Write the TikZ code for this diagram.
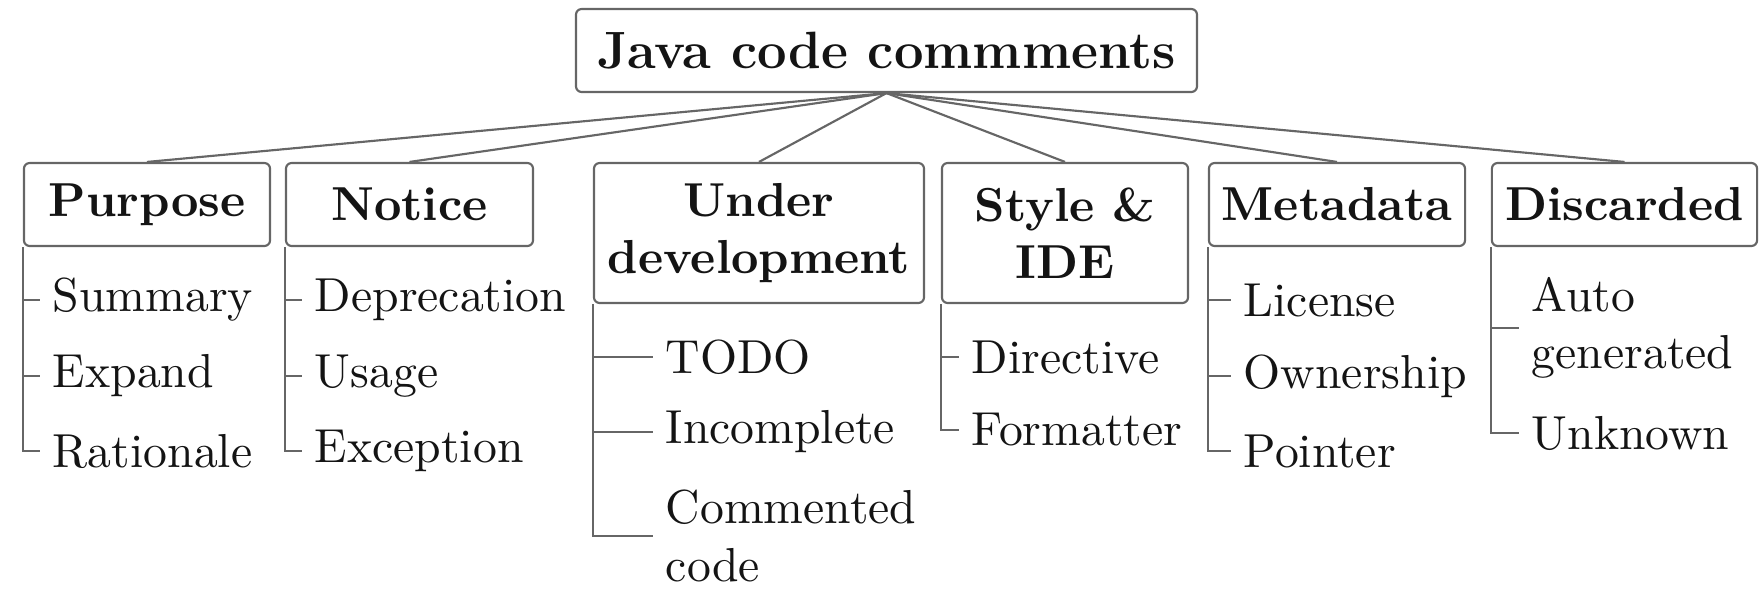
\documentclass[tikz,border=0pt]{standalone}
\begin{document}
\begin{tikzpicture}[x=0.20964pt, y=-0.20964pt,
  every node/.style={text=black!92},
  box/.style={draw=black!60, line width=0.45pt, rounded corners=1.2pt, inner sep=0pt, align=center, font=\bfseries},
  onel/.style={minimum height=17.4pt},
  twol/.style={minimum height=29.35pt},
  leaf/.style={anchor=west, inner xsep=2.5pt, inner ysep=1pt, align=left},
  conn/.style={draw=black!60, line width=0.45pt}]
\useasboundingbox (0,0) rectangle (1762,589);
% root
\node[box, minimum width=130.2pt, minimum height=17.4pt, font=\fontsize{11}{13}\selectfont\bfseries] (root) at (886.5,50.5) {Java code commments};
% level 1
\node[box, onel, minimum width=51.6pt] (pur) at (147,204.5) {Purpose};
\node[box, onel, minimum width=51.8pt] (not) at (409.5,204.5) {Notice};
\node[box, twol, minimum width=69.2pt] (und) at (759,233) {Under\\development};
\node[box, twol, minimum width=51.6pt] (sty) at (1065,233) {Style \&\\IDE};
\node[box, onel, minimum width=53.7pt] (met) at (1337,204.5) {Metadata};
\node[box, onel, minimum width=55.6pt] (dis) at (1624.5,204.5) {Discarded};
\foreach \c in {pur,not,und,sty,met,dis} \draw[conn] (root.south) -- (\c.north);
% Purpose
\node[leaf] (pur1) at (40,300) {Summary};
\node[leaf] (pur2) at (40,376) {Expand};
\node[leaf] (pur3) at (40,451) {Rationale};
\foreach \c in {pur1,pur2,pur3} \draw[conn] (pur.south west) |- (\c.west);
% Notice
\node[leaf] (not1) at (302,300) {Deprecation};
\node[leaf] (not2) at (302,376) {Usage};
\node[leaf] (not3) at (302,451) {Exception};
\foreach \c in {not1,not2,not3} \draw[conn] (not.south west) |- (\c.west);
% Under development
\node[leaf] (und1) at (653,357) {TODO};
\node[leaf] (und2) at (653,432) {Incomplete};
\node[leaf] (und3) at (653,536) {Commented\\code};
\foreach \c in {und1,und2,und3} \draw[conn] (und.south west) |- (\c.west);
% Style & IDE
\node[leaf] (sty1) at (959,357) {Directive};
\node[leaf] (sty2) at (959,430) {Formatter};
\foreach \c in {sty1,sty2} \draw[conn] (sty.south west) |- (\c.west);
% Metadata
\node[leaf] (met1) at (1231,300) {License};
\node[leaf] (met2) at (1231,376) {Ownership};
\node[leaf] (met3) at (1231,451) {Pointer};
\foreach \c in {met1,met2,met3} \draw[conn] (met.south west) |- (\c.west);
% Discarded
\node[leaf] (dis1) at (1519,328) {Auto\\generated};
\node[leaf] (dis2) at (1519,433) {Unknown};
\foreach \c in {dis1,dis2} \draw[conn] (dis.south west) |- (\c.west);
\end{tikzpicture}
\end{document}
